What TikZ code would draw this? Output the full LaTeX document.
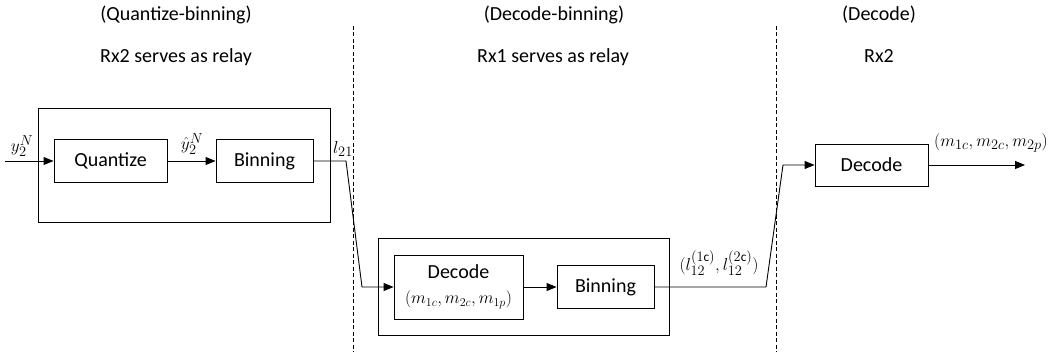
\documentclass[tikz,border=0pt]{standalone}
\usepackage{fontspec}
\setmainfont{Carlito}
\usetikzlibrary{arrows.meta}
\begin{document}
\begin{tikzpicture}[x=1pt,y=-1pt,
  box/.style={draw,line width=0.9pt,inner sep=0pt,font=\fontsize{20}{24}\selectfont},
  frame/.style={draw,line width=0.9pt},
  arr/.style={line width=0.9pt,-{Triangle[length=10pt,width=8pt]}},
  sep/.style={line width=0.8pt,dash pattern=on 4pt off 2.5pt},
  title/.style={font=\fontsize{20}{24}\selectfont,anchor=base},
  mlab/.style={font=\fontsize{19}{23}\selectfont,inner sep=0pt}]
\useasboundingbox (0,0) rectangle (1062,358);
% separators
\coordinate (s1t) at (353,26); \coordinate (s1b) at (353,352);
\coordinate (s2t) at (776,26); \coordinate (s2b) at (776,352);
\draw[sep] (s1t) -- (s1b);
\draw[sep] (s2t) -- (s2b);
% titles
\node[title] (t1a) at (176,21) {(Quantize-binning)};
\node[title] (t1b) at (176,63) {Rx2 serves as relay};
\node[title] (t2a) at (554,21) {(Decode-binning)};
\node[title] (t2b) at (553,63) {Rx1 serves as relay};
\node[title] (t3a) at (879,21) {(Decode)};
\node[title] (t3b) at (879,63) {Rx2};
% outer frames
\coordinate (o1a) at (38,108); \coordinate (o1b) at (330,222);
\coordinate (o2a) at (378,238); \coordinate (o2b) at (669,335);
\draw[frame] (o1a) rectangle (o1b);
\draw[frame] (o2a) rectangle (o2b);
% boxes
\node[box,minimum width=113pt,minimum height=43pt] (q) at (110.5,161) {Quantize};
\node[box,minimum width=97pt,minimum height=43pt] (b1) at (264.5,161) {Binning};
\node[box,minimum width=129pt,minimum height=64pt,align=center] (d2) at (458.5,287) {Decode\\[1pt]{\fontsize{18.5}{22}\selectfont$(m_{1c},m_{2c},m_{1p})$}};
\node[box,minimum width=97pt,minimum height=43pt] (b2) at (605.5,287) {Binning};
\node[box,minimum width=113pt,minimum height=42pt] (d3) at (871.5,165) {Decode};
% connector points
\coordinate (in) at (5,161);
\coordinate (c1) at (346,161);
\coordinate (c2) at (362,287);
\coordinate (c3) at (766,287);
\coordinate (c4) at (783,165);
\coordinate (out) at (1025,165);
% connectors
\draw[arr] (in) -- (q.west);
\draw[arr] (q.east) -- (b1.west);
\draw[arr] (b1.east) -- (c1) -- (c2) -- (d2.west);
\draw[arr] (d2.east) -- (b2.west);
\draw[arr] (b2.east) -- (c3) -- (c4) -- (d3.west);
\draw[arr] (d3.east) -- (out);
% labels
\node[mlab] (ly) at (22,146) {$y_2^N$};
\node[mlab] (lyh) at (192,144) {$\hat{y}_2^N$};
\node[mlab] (ll) at (343,149) {$l_{21}$};
\node[mlab] (ll12) at (719,263) {$(l_{12}^{(1\mathrm{c})},l_{12}^{(2\mathrm{c})})$};
\node[mlab] (lm) at (991,143) {$(m_{1c},m_{2c},m_{2p})$};
\end{tikzpicture}
\end{document}
